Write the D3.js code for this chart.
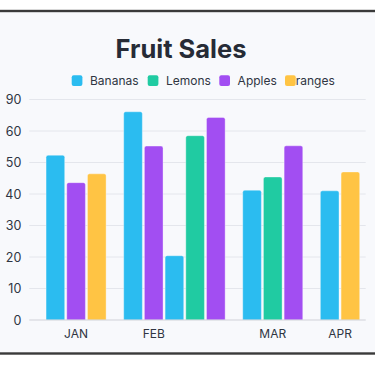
<!DOCTYPE html>
<html>
<head>
<meta charset="utf-8">
<script src="https://cdn.jsdelivr.net/npm/d3@7/dist/d3.min.js"></script>
<style>
  html, body { margin: 0; padding: 0; background: #ffffff; }
  svg { display: block; font-family: Inter, "Noto Sans", sans-serif; }
</style>
</head>
<body>
<svg id="chart" width="375" height="366"></svg>
<script>
// ---- data ----
const months = ["JAN", "FEB", "MAR", "APR"];
const fruits = ["Bananas", "Lemons", "Apples", "Oranges"];
const legendLabels = ["Bananas", "Lemons", "Apples", "ranges"];
const fruitColors = ["#2bbcf0", "#20cba2", "#a24ef2", "#ffc444"];
const barMonth = ["JAN", "JAN", "JAN", "FEB", "FEB", "FEB", "FEB", "FEB", "MAR", "MAR", "MAR", "APR", "APR"];
const barFruit = ["Bananas", "Apples", "Oranges", "Bananas", "Apples", "Bananas", "Lemons", "Apples", "Bananas", "Lemons", "Apples", "Bananas", "Oranges"];
const barValue = [52.3, 43.6, 46.4, 66.1, 55.2, 20.4, 58.5, 64.3, 41.2, 45.4, 55.3, 41.0, 47.0];
const yTickValues = [0, 10, 20, 30, 40, 50, 60, 70];
const yTickLabels = ["0", "10", "20", "30", "40", "50", "60", "90"];
const title = "Fruit Sales";

// ---- layout ----
const svg = d3.select("#chart");
const W = 375, H = 366;
const plot = { left: 29.3, right: 365.7, top: 99.5, bottom: 320 };
const groupGap = 0.75; // extra slot units between months
const barFrac = 0.9;

// card
svg.append("rect").attr("x", 0).attr("y", 0).attr("width", W).attr("height", H).attr("fill", "#ffffff");
svg.append("rect").attr("x", -5).attr("y", 11).attr("width", W + 10).attr("height", 342.5)
  .attr("fill", "#f8f9fc").attr("stroke", "#3a3a3a").attr("stroke-width", 2.4);

// slot units per bar
const bars = barValue.map((v, i) => ({ month: barMonth[i], fruit: barFruit[i], value: v }));
let unit = 0, prev = null;
bars.forEach((b, i) => {
  if (prev !== null && b.month !== prev) unit += 1 + groupGap;
  else if (prev !== null) unit += 1;
  b.u = unit; prev = b.month;
});
const lastU = bars[bars.length - 1].u;

const x = d3.scaleLinear().domain([-0.81, lastU + 1.19]).range([plot.left, plot.right]);
const y = d3.scaleLinear().domain([0, 70]).range([plot.bottom, plot.top]);
const color = d3.scaleOrdinal().domain(fruits).range(fruitColors);

// gridlines
svg.append("g").selectAll("line").data(yTickValues.slice(1)).join("line")
  .attr("x1", plot.left).attr("x2", plot.right)
  .attr("y1", d => y(d)).attr("y2", d => y(d))
  .attr("stroke", "#e4e6ec").attr("stroke-width", 1);

// y axis labels
const yAxis = d3.axisLeft(y).tickValues(yTickValues).tickSize(0).tickPadding(8)
  .tickFormat((d, i) => yTickLabels[i]);
const yg = svg.append("g").attr("transform", `translate(${plot.left},0)`).call(yAxis);
yg.select(".domain").remove();
yg.selectAll("text").attr("font-size", 12.5).attr("fill", "#2f3542").attr("font-family", "Inter, sans-serif");

// bars with rounded top
const bw = x(barFrac) - x(0);
function barPath(b) {
  const x0 = x(b.u), x1 = x0 + bw, y0 = y(b.value), y1 = y(0), r = 2;
  return `M${x0},${y1}V${y0 + r}Q${x0},${y0} ${x0 + r},${y0}H${x1 - r}Q${x1},${y0} ${x1},${y0 + r}V${y1}Z`;
}
svg.append("g").selectAll("path").data(bars).join("path")
  .attr("d", barPath)
  .attr("fill", d => color(d.fruit))
  .attr("stroke", "#ffffff").attr("stroke-opacity", 0.35).attr("stroke-width", 1);

// x baseline
svg.append("line").attr("x1", plot.left).attr("x2", plot.right)
  .attr("y1", y(0)).attr("y2", y(0)).attr("stroke", "#cfd2d8").attr("stroke-width", 1.2);

// x labels: centered on first (up to 3) bars of each month
const labelPos = months.map(m => {
  const bs = bars.filter(b => b.month === m).slice(0, 3);
  const c = d3.mean(bs, b => x(b.u) + bw / 2);
  return { m, c };
});
svg.append("g").selectAll("text").data(labelPos).join("text")
  .attr("x", d => d.c).attr("y", 338)
  .attr("text-anchor", "middle").attr("font-size", 12).attr("fill", "#2f3542")
  .text(d => d.m);

// title
svg.append("text").attr("x", 181).attr("y", 57.5).attr("text-anchor", "middle")
  .attr("font-size", 25.5).attr("font-weight", 700).attr("fill", "#262b36").text(title);

// legend
const legendX = [71.7, 147.7, 219.3, 285];
const lg = svg.append("g").selectAll("g").data(fruits).join("g")
  .attr("transform", (d, i) => `translate(${legendX[i]},80.5)`);
lg.append("text").attr("x", (d, i) => i === 3 ? 10.7 : 18.3).attr("y", 4.3)
  .attr("font-size", 12).attr("fill", "#2f3542").text((d, i) => legendLabels[i]);
lg.append("rect").attr("x", 0).attr("y", -5.3).attr("width", 10.7).attr("height", 10.7)
  .attr("rx", 2).attr("fill", d => color(d));
</script>
</body>
</html>
